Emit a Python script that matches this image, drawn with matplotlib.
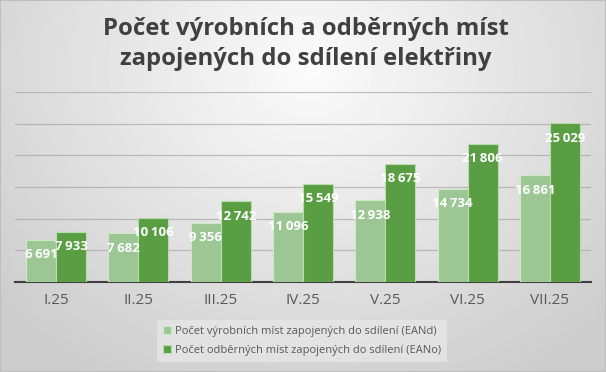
import matplotlib
matplotlib.use("Agg")
import matplotlib.pyplot as plt
import numpy as np

categories = ["I.25", "II.25", "III.25", "IV.25", "V.25", "VI.25", "VII.25"]
ean_d = [6691, 7682, 9356, 11096, 12938, 14734, 16861]
ean_o = [7933, 10106, 12742, 15549, 18675, 21806, 25029]
series_names = [
    "Počet výrobních míst zapojených do sdílení (EANd)",
    "Počet odběrných míst zapojených do sdílení (EANo)",
]
title = "Počet výrobních a odběrných míst\nzapojených do sdílení elektřiny"

light = "#9cc794"
dark = "#5a9e44"

plt.rcParams["font.family"] = ["Open Sans", "DejaVu Sans"]

fig = plt.figure(figsize=(6.06, 3.72), dpi=100)

# radial gray background
bg = fig.add_axes([0, 0, 1, 1], zorder=0)
yy, xx = np.mgrid[0:372, 0:606]
r = np.sqrt(((xx - 310) / 380.0) ** 2 + ((yy - 70) / 330.0) ** 2)
shade = np.clip(0.985 - 0.17 * r, 0.80, 0.985)
bg.imshow(shade, cmap="gray", vmin=0, vmax=1, aspect="auto", extent=[0, 1, 0, 1])
bg.set_xlim(0, 1)
bg.set_ylim(0, 1)
bg.axis("off")
bg.add_patch(plt.Rectangle((0, 0), 1, 1, fill=False, ec="#bfbfbf", lw=1.5,
                           transform=bg.transAxes))

# plot area: x 15..591, y 92..282 (pixels from top)
ax = fig.add_axes([15 / 606, (372 - 282) / 372, 576 / 606, 190 / 372], zorder=1)
ax.patch.set_alpha(0)

x = np.arange(len(categories))
w = 0.365
b1 = ax.bar(x - w / 2, ean_d, w, color=light, edgecolor="#cfe8c8", lw=0.8,
            label=series_names[0], zorder=3)
b2 = ax.bar(x + w / 2, ean_o, w, color=dark, edgecolor="#b9dcae", lw=0.8,
            label=series_names[1], zorder=3)

for bars, vals in ((b1, ean_d), (b2, ean_o)):
    for rect, v in zip(bars, vals):
        lbl = f"{v:,}".replace(",", "\u2009")
        ax.annotate(lbl, (rect.get_x() + rect.get_width() / 2, v),
                    xytext=(0, -15), textcoords="offset pixels",
                    ha="center", va="center", color="white", fontsize=9.5,
                    fontweight="bold", zorder=5)

ax.set_ylim(0, 30000)
ax.set_xlim(-0.5, len(categories) - 0.5)
ax.set_yticks(np.arange(0, 30001, 5000))
ax.yaxis.grid(True, color="#a6a6a6", lw=0.9, alpha=0.7, zorder=0)
ax.tick_params(axis="y", length=0, labelleft=False)
ax.set_xticks(x)
ax.set_xticklabels(categories, fontsize=11, color="#595959")
ax.tick_params(axis="x", length=0, pad=8)
for s in ("top", "right", "left"):
    ax.spines[s].set_visible(False)
ax.spines["bottom"].set_color("#404040")
ax.spines["bottom"].set_linewidth(1.5)

fig.text(0.505, 1 - 44 / 372, title, ha="center", va="center", fontsize=17.2,
         fontweight="bold", color="#404040", linespacing=1.35)

leg = fig.legend(loc="center", bbox_to_anchor=(302 / 606, 1 - 341 / 372),
                 ncol=1, fontsize=8, frameon=True, handlelength=0.7,
                 handleheight=0.7, handletextpad=0.4, labelspacing=0.75,
                 borderpad=0.5, fancybox=False)
leg.get_frame().set_facecolor("#e6e6e6")
leg.get_frame().set_edgecolor("none")
leg.get_frame().set_alpha(0.8)
for t in leg.get_texts():
    t.set_color("#595959")

fig.savefig("out.png", dpi=100)
